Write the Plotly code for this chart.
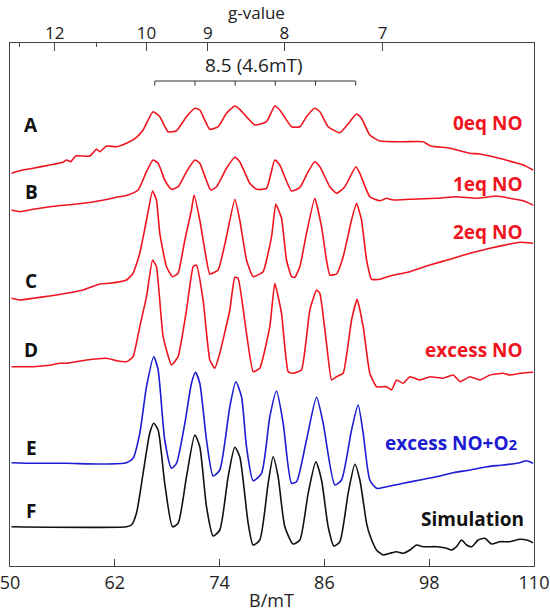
import plotly.graph_objects as go

# ---------------- data (B in mT, intensity in arbitrary display units, stacked) ----------------
A_B = [50.17, 51.12, 52.64, 54.55, 56.08, 56.47, 56.96, 57.53, 59.13, 59.9, 60.28, 61.05, 62.19, 63.34,
       64.48, 65.24, 66.38, 67.15, 68.1, 69.06, 70.21, 71.16, 71.73, 72.88, 73.83, 74.79, 75.74, 76.31,
       78.03, 79.37, 80.32, 80.89, 82.24, 83.19, 83.95, 84.9, 85.48, 86.43, 87.77, 88.91, 89.68, 90.25,
       91.2, 92.35, 95.02, 97.31, 98.08, 100.37, 102.66, 103.8, 106.47, 108.76, 109.9]
A_I = [392.7, 395.3, 397.7, 401, 403.7, 406, 404.3, 410, 410, 416.7, 414.3, 420, 419.3, 422.7,
       428.7, 436, 454.3, 449.3, 434.3, 435.3, 449.3, 457.7, 456, 436.7, 439.3, 452.7, 460, 456.7,
       441, 444.3, 460, 456, 439.3, 439.3, 449.3, 457.7, 454.3, 439.3, 433.3, 444.3, 452, 447.7,
       431, 425, 424.3, 424.3, 420.3, 417.7, 412.7, 412, 406.7, 401, 396]

B_B = [50.17, 51.12, 52.64, 54.55, 56.47, 58.37, 60.28, 62.19, 63.52, 64.67, 65.63, 66.38, 66.96, 67.72,
       68.49, 69.25, 70.21, 71.16, 71.73, 72.99, 73.65, 74.79, 75.74, 76.31, 77.46, 78.23, 79.37, 80.32,
       80.89, 82.24, 83.19, 84.14, 84.9, 85.48, 86.62, 87.39, 88.34, 89.6, 90.06, 91.2, 92.35, 93.12,
       93.88, 95.79, 98.84, 101.13, 103.42, 105.72, 107.24, 108.76, 109.9]
B_I = [356, 354.3, 356.7, 359.3, 361, 362.7, 365.3, 368.7, 371, 376, 394.3, 406, 402.7, 386,
       376.7, 379.3, 394.3, 406, 402.7, 376, 379.3, 397.7, 408.7, 404.3, 382.7, 376.7, 377.7, 406,
       401, 375, 378.7, 394.3, 404.3, 399.3, 379.3, 372.7, 379.3, 399.3, 392.7, 369.3, 365.3, 367.7,
       366, 366.7, 367.7, 369.3, 367.7, 370, 367.7, 365.3, 361]

C_B = [50.17, 51.12, 52.64, 54.55, 56.47, 58.37, 60.28, 61.43, 63.34, 64.09, 64.86, 65.63, 66.32, 66.77,
       67.15, 67.92, 68.61, 69.25, 70.02, 70.78, 71.08, 71.73, 72.31, 72.88, 73.83, 74.79, 75.74, 76.31,
       77.08, 77.84, 78.98, 79.95, 80.44, 81.09, 81.66, 82.24, 82.62, 83.19, 83.95, 84.9, 85.67, 86.24,
       86.62, 87.39, 88.15, 89.11, 89.68, 90.25, 90.83, 91.4, 92.35, 93.5, 95.79, 98.08, 100.37, 102.66,
       104.95, 107.24, 108.38, 109.9]
C_I = [267.7, 266, 267.7, 270, 272.7, 276, 282, 282.7, 286, 292.7, 312.7, 346, 375, 366,
       332.7, 299.3, 289.3, 292.7, 326, 356, 371, 346, 316, 292, 296, 329.3, 366.7, 346,
       306, 289.3, 294.3, 329.3, 362, 347.7, 306, 289.3, 288.7, 299.3, 332.7, 367.7, 339.3, 306,
       291, 292, 309.3, 346, 362.7, 346, 306, 286.7, 286.7, 290, 294.3, 301, 306.7, 312.7,
       317.7, 322, 323.7, 322.7]

D_B = [50.17, 52.64, 54.55, 55.7, 56.47, 58.76, 61.05, 62.19, 63.34, 64.09, 64.86, 65.63, 66.32, 66.77,
       67.53, 68.49, 69.25, 70.21, 70.97, 71.35, 72.11, 72.88, 73.45, 74.02, 75.17, 75.74, 76.12, 77.08,
       77.84, 78.6, 79.75, 80.32, 81.09, 81.85, 82.42, 83.38, 84.33, 85.1, 85.48, 86.24, 86.82, 87.39,
       88.15, 89.11, 89.75, 90.44, 91.2, 91.97, 93.12, 93.69, 94.26, 95.02, 95.79, 96.93, 98.08, 99.6,
       100.75, 101.52, 102.66, 103.8, 104.95, 106.47, 107.24, 108.38, 109.9]
D_I = [199.3, 199.3, 200.7, 202.7, 202.7, 206, 207.7, 205.3, 204.3, 209.3, 239.3, 269.3, 306, 299.3,
       229.3, 201, 209.3, 256, 299.3, 301, 266, 206, 197.7, 212.7, 256, 288.7, 287.7, 232.7,
       194.3, 197.7, 239.3, 282.7, 252.7, 194.3, 192.7, 196, 256, 276, 272.7, 222.7, 186, 189.3,
       192.7, 246, 266.7, 239.3, 192.7, 179.3, 179.3, 176, 186, 182.7, 189.3, 186, 189.3, 187.7,
       191, 184.3, 189.3, 186, 191, 192.7, 191, 192.7, 193.7]

E_B = [50.17, 52.64, 56.47, 60.28, 63.34, 64.09, 64.86, 65.63, 66.46, 66.96, 67.72, 68.49, 69.06, 70.02,
       70.78, 71.24, 71.73, 72.5, 73.26, 74.02, 75.17, 75.86, 76.51, 77.08, 77.84, 78.8, 79.75, 80.52,
       81.28, 82.24, 82.81, 83.95, 85.1, 85.86, 87.2, 87.96, 89.11, 89.86, 90.44, 91.2, 91.97, 93.12,
       95.02, 96.93, 98.84, 100.75, 102.66, 104.57, 106.47, 108.38, 109.15, 109.9]
E_I = [103.3, 102.7, 102.7, 102, 103.3, 107.7, 132.7, 179.3, 209.3, 196, 126, 97.7, 102.7, 142.7,
       182.7, 193.7, 182.7, 126, 90, 96, 159.3, 184.3, 169.3, 119.3, 85.3, 92.7, 149.3, 175,
       142.7, 82.7, 84.3, 126, 168.7, 142.7, 81, 86, 136, 161, 132.7, 86, 77.7, 79.3,
       82.7, 86, 89.3, 93.3, 96, 99.3, 101, 103.3, 105.3, 102.7]

F_B = [50.17, 63.34, 63.91, 64.48, 65.24, 66.0, 66.46, 66.96, 67.72, 68.61, 69.25, 70.21, 71.16, 71.73,
       72.5, 73.26, 74.02, 74.98, 75.74, 76.31, 77.27, 77.84, 78.6, 79.56, 80.13, 80.7, 81.47, 82.42,
       83.19, 84.14, 85.02, 85.67, 86.43, 87.08, 87.77, 88.72, 89.49, 90.06, 90.83, 91.2, 91.97, 92.73,
       93.5, 94.26, 95.02, 95.79, 96.55, 97.31, 98.84, 99.98, 100.56, 101.13, 101.71, 102.28, 102.85,
       103.61, 104.38, 105.14, 106.09, 107.24, 108.38, 109.15, 109.9]
F_I = [39.3, 39.3, 41, 52.7, 92.7, 132.7, 142.7, 136, 82.7, 39.3, 42.7, 89.3, 131, 119.3,
       59.3, 30, 36, 89.3, 118.7, 109.3, 42.7, 21, 26, 82.7, 109.3, 89.3, 39.3, 22,
       26, 72.7, 104.3, 86, 39.3, 20, 24.3, 72.7, 101.7, 86, 42.7, 31, 16, 11,
       12.7, 14.3, 12.7, 16, 21, 19.3, 19.3, 17.7, 16, 19.3, 26, 21, 19.3,
       26, 27.7, 22, 24.3, 24.3, 26.7, 26, 23.3]

trace_letters = ["A", "B", "C", "D", "E", "F"]
letter_levels = [441.5, 374, 285.3, 216, 118.5, 55.3]
sample_labels = ["0eq NO", "1eq NO", "2eq NO", "excess NO",
                 "excess NO+O<span style='font-size:15px'>2</span>", "Simulation"]
label_levels = [443, 382, 334, 216, 123, 47]
label_right_B = [108.96, 108.96, 108.96, 108.96, 108.38, 109.04]

bottom_ticks = [50, 62, 74, 86, 98, 110]
g_major = [12, 10, 9, 8, 7]
g_minor = [13, 11]
G_CONST, G_OFFSET = 630.5, 2.59   # B(mT) = G_CONST / g + G_OFFSET (as drawn in the original)

hf_lines = [66.58, 71.18, 75.78, 80.38, 84.98, 89.58]
hf_text = "8.5 (4.6mT)"
bracket_level, bracket_tick_end = 485, 480.3

RED = "#f0141e"
BLUE = "#1c1cd2"
BLACK = "#111111"
FONT = "Open Sans"

series = [(A_B, A_I, RED, 0.5), (B_B, B_I, RED, 0.5), (C_B, C_I, RED, 0.4),
          (D_B, D_I, RED, 0.4), (E_B, E_I, BLUE, 0.6), (F_B, F_I, BLACK, 0.6)]

fig = go.Figure()
for xs, ys, col, sm in series:
    fig.add_trace(go.Scatter(x=xs, y=ys, mode="lines",
                             line=dict(color=col, width=1.6, shape="spline", smoothing=sm),
                             showlegend=False, hoverinfo="skip"))

# hyperfine bracket
bx, by = [hf_lines[0], hf_lines[-1]], [bracket_level, bracket_level]
for v in hf_lines:
    bx += [None, v, v]
    by += [None, bracket_level, bracket_tick_end]
fig.add_trace(go.Scatter(x=bx, y=by, mode="lines", xaxis="x2", yaxis="y",
                         line=dict(color="#333333", width=1), showlegend=False, hoverinfo="skip"))

ann = []
for t, lv in zip(trace_letters, letter_levels):
    ann.append(dict(x=52.43, y=lv, text=f"<b>{t}</b>", showarrow=False, xanchor="center",
                    yanchor="middle", font=dict(family=FONT, size=19, color="#111111")))
cols = [RED, RED, RED, RED, BLUE, BLACK]
for t, lv, xr, c in zip(sample_labels, label_levels, label_right_B, cols):
    ann.append(dict(x=xr, y=lv, text=f"<b>{t}</b>", showarrow=False, xanchor="right",
                    yanchor="middle", font=dict(family=FONT, size=19, color=c)))
ann.append(dict(x=77.95, y=501, text=hf_text, showarrow=False, xanchor="center", yanchor="middle",
                font=dict(family=FONT, size=19, color="#222222")))
ann.append(dict(x=78.23, xref="x", y=1.059, yref="paper", text="g-value", showarrow=False,
                xanchor="center", yanchor="middle", borderpad=0,
                font=dict(family=FONT, size=17, color="#222222")))
ann.append(dict(x=79.9, xref="x", y=-0.065, yref="paper", text="B/mT", showarrow=False,
                xanchor="center", yanchor="middle", borderpad=0,
                font=dict(family=FONT, size=18, color="#222222")))

fig.update_layout(
    width=550, height=613,
    margin=dict(l=10, r=16, t=43, b=47, autoexpand=False),
    paper_bgcolor="white", plot_bgcolor="white",
    font=dict(family=FONT, color="#222222"),
    xaxis=dict(range=[50, 110], tickmode="array", tickvals=bottom_ticks,
               ticktext=[str(v) for v in bottom_ticks], ticks="inside", ticklen=7,
               tickcolor="#444444", showline=True, linecolor="#444444", linewidth=1.2,
               mirror=True, showgrid=False, zeroline=False, ticklabeloverflow="allow",
               automargin=False, tickfont=dict(family=FONT, size=18, color="#222222")),
    xaxis2=dict(range=[50, 110], overlaying="x", side="top", anchor="y", tickmode="array",
                tickvals=[G_CONST / g + G_OFFSET for g in g_major],
                ticktext=[str(g) for g in g_major], ticks="inside", ticklen=8,
                tickcolor="#444444", showline=False, showgrid=False, zeroline=False,
                automargin=False, tickfont=dict(family=FONT, size=17, color="#222222"),
                minor=dict(tickmode="array", tickvals=[G_CONST / g + G_OFFSET for g in g_minor],
                           ticks="inside", ticklen=4, tickcolor="#444444", showgrid=False)),
    yaxis=dict(range=[0, 523], showticklabels=False, ticks="", showline=True, linecolor="#444444",
               linewidth=1.2, mirror=True, showgrid=False, zeroline=False, automargin=False),
    annotations=ann,
)

# remove the default 8px page margin so the 550x613 figure fills the window exactly
fig.write_html("out.html", config={"displayModeBar": False},
               post_script="document.body.style.margin='0px';")
